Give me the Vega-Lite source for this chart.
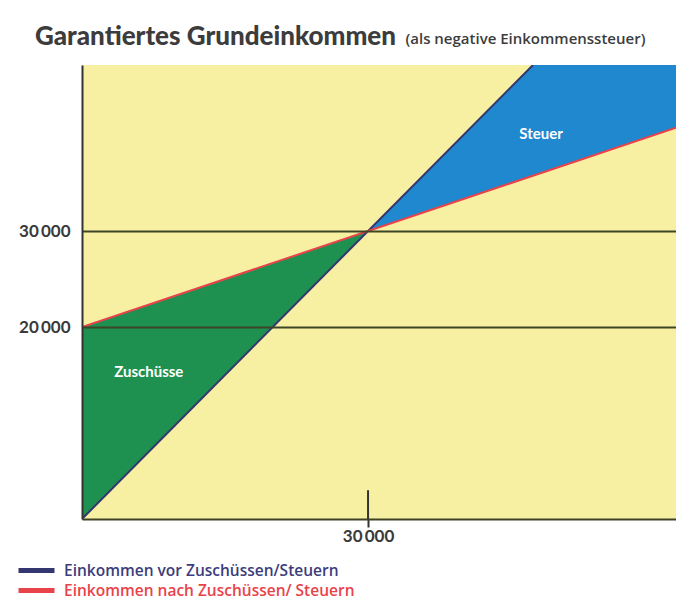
{
  "$schema": "https://vega.github.io/schema/vega-lite/v6.json",
  "width": 594,
  "height": 454,
  "autosize": "none",
  "padding": {"left": 82, "top": 65, "right": 0, "bottom": 82},
  "background": "white",
  "title": {
    "text": "Garantiertes Grundeinkommen",
    "anchor": "start",
    "frame": "group",
    "font": "Lato",
    "fontWeight": 900,
    "fontSize": 26,
    "color": "#3c3c3c",
    "baseline": "alphabetic",
    "dx": -47,
    "offset": -40
  },
  "config": {
    "view": {"fill": "#f7f0a3", "stroke": null}
  },
  "datasets": {
    "areas": [
      {"region": "Zuschüsse", "x": 0, "lo": 0, "hi": 20000},
      {"region": "Zuschüsse", "x": 30000, "lo": 30000, "hi": 30000},
      {"region": "Steuer", "x": 30000, "lo": 30000, "hi": 30000},
      {"region": "Steuer", "x": 47300, "lo": 35767, "hi": 47300},
      {"region": "Steuer", "x": 62300, "lo": 40767, "hi": 47300}
    ],
    "lines": [
      {"series": "Einkommen vor Zuschüssen/Steuern", "x": 0, "y": 0},
      {"series": "Einkommen vor Zuschüssen/Steuern", "x": 47300, "y": 47300},
      {"series": "Einkommen nach Zuschüssen/ Steuern", "x": 0, "y": 20000},
      {"series": "Einkommen nach Zuschüssen/ Steuern", "x": 62300, "y": 40767}
    ],
    "tick": [
      {"x": 30000, "y": 0, "y2": 3000}
    ],
    "labels": [
      {"label": "Zuschüsse", "x": 7000, "y": 15300},
      {"label": "Steuer", "x": 48150, "y": 40100}
    ]
  },
  "encoding": {
    "x": {
      "field": "x",
      "type": "quantitative",
      "scale": {"domain": [0, 62300], "nice": false, "zero": false},
      "axis": {
        "title": null,
        "values": [30000],
        "grid": false,
        "domainColor": "#3f4226",
        "domainWidth": 2,
        "tickColor": "#333333",
        "tickWidth": 2,
        "tickSize": 8,
        "labelPadding": 1,
        "labelFont": "Lato",
        "labelFontWeight": 700,
        "labelFontSize": 17,
        "labelColor": "#3a3a3a",
        "labelExpr": "replace(format(datum.value, ','), ',', '\u2009')"
      }
    },
    "y": {
      "field": "y",
      "type": "quantitative",
      "scale": {"domain": [0, 47300], "nice": false, "zero": false},
      "axis": {
        "title": "(als negative Einkommenssteuer)",
        "titleAngle": 0,
        "titleAlign": "left",
        "titleBaseline": "alphabetic",
        "titleX": 323,
        "titleY": -22,
        "titleFont": "Open Sans",
        "titleFontWeight": 600,
        "titleFontSize": 15,
        "titleColor": "#3c3c3c",
        "values": [20000, 30000],
        "grid": true,
        "gridColor": "#3d4526",
        "gridWidth": 2,
        "ticks": false,
        "domainColor": "#333333",
        "domainWidth": 2,
        "labelPadding": 12,
        "labelFont": "Lato",
        "labelFontWeight": 700,
        "labelFontSize": 17,
        "labelColor": "#3a3a3a",
        "labelExpr": "replace(format(datum.value, ','), ',', '\u2009')",
        "zindex": 1
      }
    }
  },
  "layer": [
    {
      "data": {"name": "areas"},
      "mark": {"type": "area", "clip": true},
      "encoding": {
        "y": {"field": "lo", "type": "quantitative"},
        "y2": {"field": "hi"},
        "fill": {
          "field": "region",
          "type": "nominal",
          "scale": {"domain": ["Zuschüsse", "Steuer"], "range": ["#1e9150", "#1f88cf"]},
          "legend": null
        }
      }
    },
    {
      "data": {"name": "lines"},
      "mark": {"type": "line", "strokeWidth": 2, "clip": true},
      "encoding": {
        "color": {
          "field": "series",
          "type": "nominal",
          "scale": {
            "domain": ["Einkommen vor Zuschüssen/Steuern", "Einkommen nach Zuschüssen/ Steuern"],
            "range": ["#33366f", "#e8434a"]
          },
          "legend": {
            "orient": "none",
            "legendX": -54,
            "legendY": 497,
            "title": null,
            "direction": "vertical",
            "symbolType": "M-3,0H3",
            "symbolSize": 144,
            "symbolStrokeWidth": 5,
            "labelFont": "Open Sans",
            "labelFontWeight": 600,
            "labelFontSize": 15.5,
            "labelOffset": 19,
            "rowPadding": -1,
            "labelLimit": 400,
            "encode": {
              "labels": {
                "update": {
                  "fill": {"signal": "indexof(datum.value, 'vor') >= 0 ? '#3b3d7c' : '#e8434a'"}
                }
              }
            }
          }
        }
      }
    },
    {
      "data": {"name": "tick"},
      "mark": {"type": "rule", "color": "#333333", "strokeWidth": 2},
      "encoding": {
        "y": {"field": "y", "type": "quantitative"},
        "y2": {"field": "y2"}
      }
    },
    {
      "data": {"name": "labels"},
      "mark": {
        "type": "text",
        "font": "Lato",
        "fontWeight": 700,
        "fontSize": 15,
        "color": "white",
        "align": "center",
        "baseline": "middle",
        "letterSpacing": 1
      },
      "encoding": {
        "text": {"field": "label"}
      }
    }
  ]
}
